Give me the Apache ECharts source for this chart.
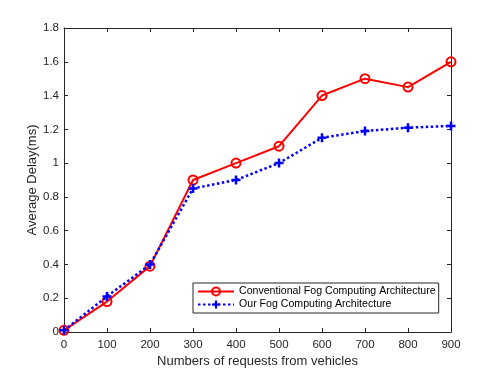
<!DOCTYPE html>
<html>
<head>
<meta charset="utf-8">
<script src="https://cdn.jsdelivr.net/npm/echarts@6/dist/echarts.min.js"></script>
<style>html,body{margin:0;padding:0;background:#fff;}#c{width:498px;height:374px;}</style>
</head>
<body>
<div id="c"></div>
<script>
var categories = [0, 100, 200, 300, 400, 500, 600, 700, 800, 900];
var conventional = [0.01, 0.18, 0.39, 0.90, 1.00, 1.10, 1.40, 1.50, 1.45, 1.60];
var ours = [0.01, 0.21, 0.40, 0.85, 0.90, 1.00, 1.15, 1.19, 1.21, 1.22];
var seriesNames = ['Conventional Fog Computing Architecture', 'Our Fog Computing Architecture'];
var xTitle = 'Numbers of requests from vehicles';
var yTitle = 'Average Delay(ms)';

var font = 'Liberation Sans, Arial, Helvetica, sans-serif';
var axisColor = '#262626';
var plusPath = 'path://M3.6,0H6.4V3.6H10V6.4H6.4V10H3.6V6.4H0V3.6H3.6Z';

function pairs(vals) { return categories.map(function (c, i) { return [c, vals[i]]; }); }

var chart = echarts.init(document.getElementById('c'), null, { renderer: 'canvas' });
var baseAxis = {
  axisLine: { show: true, onZero: false, lineStyle: { color: axisColor, width: 1 } },
  axisTick: { show: true, inside: true, length: 4, lineStyle: { color: axisColor } },
  splitLine: { show: false },
  axisLabel: { color: axisColor, fontFamily: font, fontSize: 11.5 }
};
chart.setOption({
  animation: false,
  backgroundColor: '#fff',
  grid: { left: 64, right: 47, top: 28, bottom: 42, containLabel: false },
  xAxis: [
    Object.assign({}, baseAxis, {
      type: 'value', min: 0, max: 900, interval: 100, position: 'bottom',
      axisLabel: { color: axisColor, fontFamily: font, fontSize: 11.5, margin: 7 },
      name: xTitle, nameLocation: 'middle', nameGap: 23, nameMoveOverlap: false,
      nameTextStyle: { color: axisColor, fontFamily: font, fontSize: 13 }
    }),
    Object.assign({}, baseAxis, {
      type: 'value', min: 0, max: 900, interval: 100, position: 'top',
      axisLabel: { show: false }
    })
  ],
  yAxis: [
    Object.assign({}, baseAxis, {
      type: 'value', min: 0, max: 1.8, interval: 0.2, position: 'left',
      axisLabel: { color: axisColor, fontFamily: font, fontSize: 11.5, margin: 5 },
      name: yTitle, nameLocation: 'middle', nameGap: 25, nameMoveOverlap: false,
      nameTextStyle: { color: axisColor, fontFamily: font, fontSize: 13 }
    }),
    Object.assign({}, baseAxis, {
      type: 'value', min: 0, max: 1.8, interval: 0.2, position: 'right',
      axisLabel: { show: false }
    })
  ],
  legend: {
    orient: 'vertical',
    left: 193, top: 283,
    padding: [3, 3, 3, 4],
    itemGap: 2,
    itemWidth: 36,
    itemHeight: 10,
    borderColor: axisColor,
    borderWidth: 1,
    backgroundColor: '#fff',
    textStyle: { color: '#000', fontFamily: font, fontSize: 10.6, padding: [0, 0, 0, 0] },
    data: seriesNames
  },
  series: [
    {
      name: seriesNames[0], type: 'line', data: pairs(conventional),
      symbol: 'circle', symbolSize: 9,
      lineStyle: { color: '#ff0000', width: 2, type: 'solid' },
      itemStyle: { color: 'rgba(255,255,255,0)', borderColor: '#ff0000', borderWidth: 2 },
      z: 2
    },
    {
      name: seriesNames[1], type: 'line', data: pairs(ours),
      symbol: plusPath, symbolSize: 9,
      lineStyle: { color: '#0000ff', width: 2.5, type: [2.5, 2.5] },
      itemStyle: { color: '#0000ff', borderWidth: 0 },
      z: 3
    }
  ]
});
</script>
</body>
</html>
